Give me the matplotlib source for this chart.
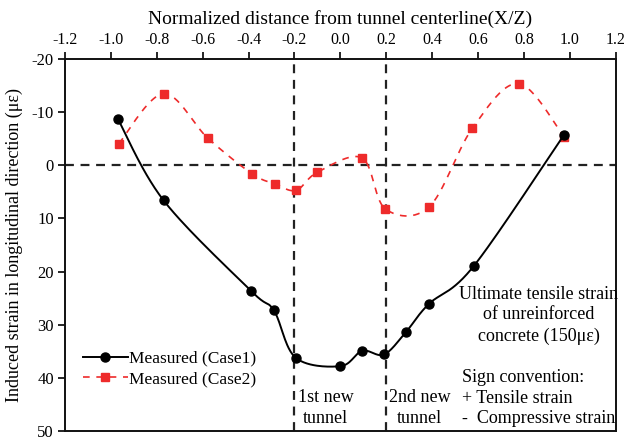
import numpy as np
import matplotlib
matplotlib.use("Agg")
import matplotlib.pyplot as plt
from matplotlib.lines import Line2D

plt.rcParams['font.family'] = ['Liberation Serif', 'DejaVu Serif']
plt.rcParams['axes.unicode_minus'] = False

# Data
x_case1 = [-0.97, -0.77, -0.39, -0.29, -0.195, 0.0, 0.095, 0.19, 0.285, 0.385, 0.58, 0.975]
y_case1 = [-8.8, 6.6, 23.6, 27.3, 36.2, 37.8, 34.9, 35.6, 31.4, 26.1, 19.0, -5.8]

x_case2 = [-0.965, -0.77, -0.577, -0.384, -0.284, -0.193, -0.10, 0.094, 0.196, 0.387, 0.575, 0.776, 0.974]
y_case2 = [-4.1, -13.5, -5.1, 1.6, 3.5, 4.7, 1.3, -1.4, 8.2, 7.8, -7.0, -15.4, -5.4]

xticks = [-1.2, -1.0, -0.8, -0.6, -0.4, -0.2, 0.0, 0.2, 0.4, 0.6, 0.8, 1.0, 1.2]
yticks = [-20, -10, 0, 10, 20, 30, 40, 50]


def smooth(xs, ys, n=30):
    """Excel-like smoothed line through points (Catmull-Rom Bezier)."""
    P = np.column_stack([xs, ys]).astype(float)
    out = []
    m = len(P)
    for i in range(m - 1):
        p0 = P[i - 1] if i > 0 else P[i]
        p1 = P[i]
        p2 = P[i + 1]
        p3 = P[i + 2] if i + 2 < m else P[i + 1]
        c1 = p1 + (p2 - p0) / 6.0
        c2 = p2 - (p3 - p1) / 6.0
        t = np.linspace(0, 1, n)[:, None]
        seg = ((1 - t) ** 3) * p1 + 3 * ((1 - t) ** 2) * t * c1 + 3 * (1 - t) * t ** 2 * c2 + t ** 3 * p2
        out.append(seg if i == 0 else seg[1:])
    out = np.vstack(out)
    return out[:, 0], out[:, 1]


fig = plt.figure(figsize=(6.24, 4.38), dpi=100)
ax = fig.add_axes([0.104, 0.016, 0.883, 0.849])

red = '#ee2b2b'

# reference lines
ax.axhline(0, color='#222222', lw=1.6, ls=(0, (4, 3)), zorder=1)
ax.axvline(-0.2, color='#222222', lw=1.6, ls=(0, (4, 3)), zorder=1)
ax.axvline(0.2, color='#222222', lw=1.6, ls=(0, (4, 3)), zorder=1)

sx, sy = smooth(x_case2, y_case2)
ax.plot(sx, sy, color=red, lw=1.2, ls=(0, (4, 4)), zorder=2)
ax.plot(x_case2, y_case2, ls='none', marker='s', ms=6.3, color=red, mec=red, zorder=3)

sx, sy = smooth(x_case1, y_case1)
ax.plot(sx, sy, color='black', lw=1.4, zorder=4)
ax.plot(x_case1, y_case1, ls='none', marker='o', ms=6.5, color='black', zorder=5)

ax.set_xlim(-1.2, 1.2)
ax.set_ylim(50, -20)
ax.set_xticks(xticks)
ax.set_xticklabels([f"{v:.1f}" for v in xticks])
ax.set_yticks(yticks)
ax.xaxis.tick_top()
ax.xaxis.set_label_position('top')
ax.tick_params(axis='x', direction='out', length=5, width=1.2, labelsize=11.5, pad=3)
ax.tick_params(axis='y', direction='out', length=5, width=1.2, labelsize=12, pad=3)
for s in ax.spines.values():
    s.set_linewidth(1.4)
    s.set_color('#111111')

ax.set_xlabel('Normalized distance from tunnel centerline(X/Z)', fontsize=14, labelpad=6)
ax.set_ylabel('Induced strain in longitudinal direction (\u03bc\u03b5)', fontsize=13, labelpad=6)

handles = [
    Line2D([], [], color='black', lw=1.4, marker='o', ms=6.5),
    Line2D([], [], color=red, lw=1.2, ls=(0, (4, 4)), marker='s', ms=6.3),
]
ax.legend(handles, ['Measured (Case1)', 'Measured (Case2)'], loc='lower left',
          bbox_to_anchor=(0.01, 0.085), frameon=False, fontsize=12.5,
          handlelength=2.6, handletextpad=0.1, labelspacing=0.25, borderpad=0.2)

fs = 13
ax.text(-0.065, 45.6, '1st new\ntunnel', ha='center', va='center', fontsize=fs, linespacing=1.3)
ax.text(0.345, 45.6, '2nd new\ntunnel', ha='center', va='center', fontsize=fs, linespacing=1.3)
ax.text(0.865, 28.2, 'Ultimate tensile strain\nof unreinforced\nconcrete (150\u03bc\u03b5)', ha='center', va='center',
        fontsize=fs, linespacing=1.3)
ax.text(0.53, 43.8, 'Sign convention:\n+ Tensile strain\n-  Compressive strain', ha='left', va='center',
        fontsize=fs, linespacing=1.3)

fig.savefig('out.png', dpi=100)
